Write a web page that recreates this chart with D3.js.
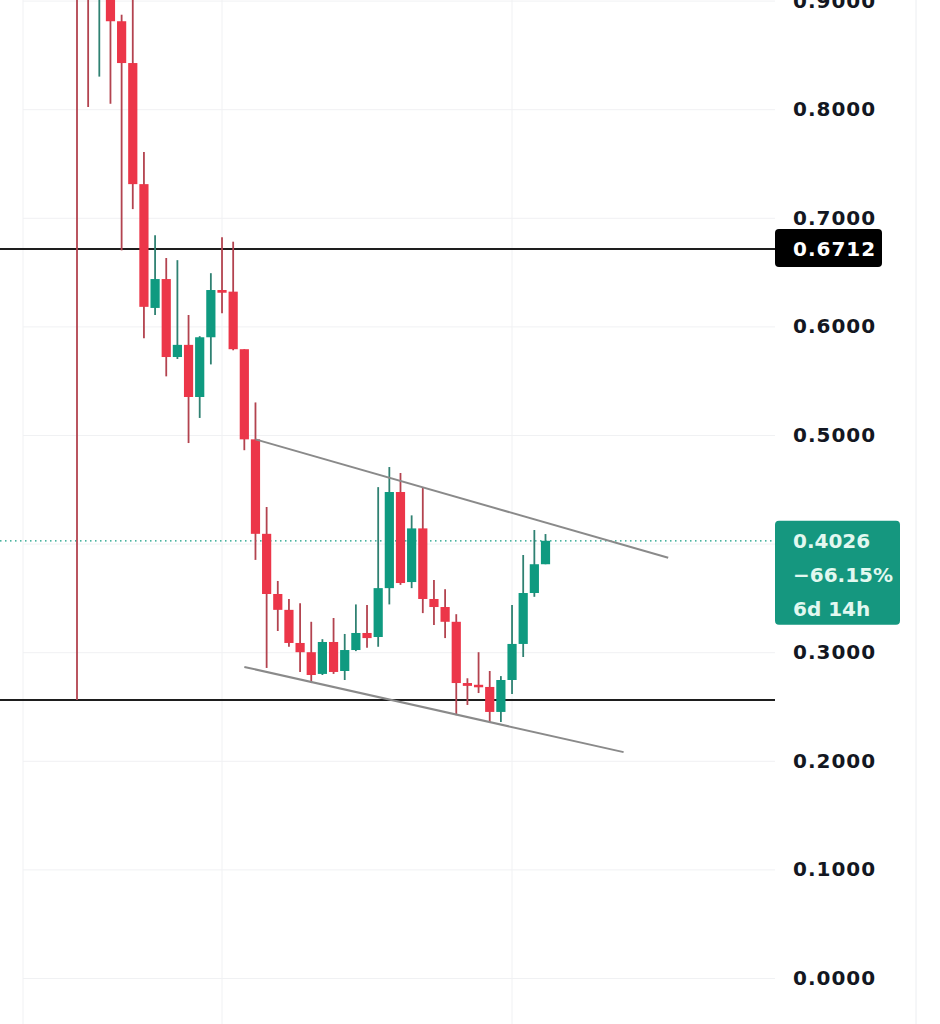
<!DOCTYPE html>
<html>
<head>
<meta charset="utf-8">
<script src="https://cdn.jsdelivr.net/npm/d3@7"></script>
<style>
  body { margin: 0; background: #fff; }
  svg { display: block; }
  .rotulo-eixo text { font-family: "DejaVu Sans", sans-serif; font-weight: bold; font-size: 20px; letter-spacing: 1px; fill: #131722; }
  .etiqueta { font-family: "DejaVu Sans", sans-serif; font-weight: bold; font-size: 20px; letter-spacing: 1px; }
  .linha-etiqueta { letter-spacing: 0px; }
</style>
</head>
<body>
<svg id="grafico"></svg>
<script>
// dados das velas (abertura, máxima, mínima, fechamento)
const aberturas = [0.95, 0.97, 0.92, 0.95, 0.881, 0.8425, 0.731, 0.617, 0.6436, 0.5718,
  0.583, 0.535, 0.590, 0.6335, 0.632, 0.579, 0.496, 0.409, 0.3536, 0.339,
  0.3085, 0.300, 0.280, 0.3094, 0.2827, 0.302, 0.3177, 0.314, 0.359, 0.4475,
  0.3646, 0.414, 0.349, 0.3416, 0.328, 0.2716, 0.270, 0.268, 0.245, 0.2744,
  0.3076, 0.3545, 0.381];
const maximas = [1.00, 1.00, 0.99, 0.97, 0.887, 0.93, 0.7606, 0.684, 0.663, 0.661,
  0.6105, 0.591, 0.649, 0.682, 0.678, 0.579, 0.530, 0.4337, 0.3656, 0.349,
  0.345, 0.328, 0.312, 0.3315, 0.3168, 0.344, 0.3435, 0.452, 0.4705, 0.465,
  0.426, 0.452, 0.3665, 0.358, 0.335, 0.276, 0.300, 0.2827, 0.278, 0.3435,
  0.3895, 0.4125, 0.4088];
const minimas = [0.256, 0.802, 0.830, 0.805, 0.670, 0.708, 0.589, 0.6105, 0.554, 0.570,
  0.4926, 0.5157, 0.565, 0.612, 0.578, 0.486, 0.385, 0.2855, 0.3195, 0.305,
  0.2818, 0.2716, 0.279, 0.280, 0.2744, 0.301, 0.304, 0.305, 0.344, 0.362,
  0.359, 0.336, 0.325, 0.313, 0.242, 0.2514, 0.2624, 0.2357, 0.2357, 0.2615,
  0.2956, 0.351, 0.381];
const fechamentos = [0.92, 0.93, 0.95, 0.881, 0.8425, 0.731, 0.618, 0.6436, 0.5718, 0.583,
  0.535, 0.590, 0.6335, 0.631, 0.579, 0.496, 0.409, 0.3536, 0.339, 0.3085,
  0.300, 0.279, 0.3094, 0.2818, 0.302, 0.3177, 0.313, 0.359, 0.4475, 0.3637,
  0.414, 0.349, 0.3416, 0.328, 0.2716, 0.269, 0.268, 0.245, 0.2744, 0.3076,
  0.3545, 0.381, 0.4026];

// níveis horizontais e linhas de tendência [índice da vela, preço]
const resistencia = 0.6712;
const suporte = 0.256;
const ultimoPreco = 0.4026;
const variacao = '\u221266.15%';
const tempoRestante = '6d 14h';
const tendenciaSuperior = [[16, 0.496], [53, 0.387]];
const tendenciaInferior = [[15, 0.2864], [49, 0.208]];
const ticksGrade = [0, 0.1, 0.2, 0.3, 0.4, 0.5, 0.6, 0.7, 0.8, 0.9];
const ticksRotulo = [0, 0.1, 0.2, 0.3, 0.5, 0.6, 0.7, 0.8, 0.9]; // 0.4 fica escondido pela etiqueta
const gradeX = [23, 222, 512];

const largura = 940, altura = 1024;
const fimPlot = 775;
const corAlta = '#0f9a80', corBaixa = '#ec3649';
const pavioAlta = '#2f8172', pavioBaixa = '#b3434f';

const svg = d3.select('#grafico').attr('width', largura).attr('height', altura);

const velas = aberturas.map((o, i) => ({ i, o, h: maximas[i], l: minimas[i], c: fechamentos[i] }));

// escalas
const x = d3.scaleLinear().domain([0, 42]).range([77, 545.5]);
const y = d3.scaleLinear().domain([0, 0.9]).range([978, 0.6]);

// grade horizontal
svg.append('g')
    .attr('transform', `translate(${fimPlot}, 0)`)
    .call(d3.axisLeft(y).tickValues(ticksGrade).tickSize(fimPlot - 23).tickFormat(''))
    .call(g => g.select('.domain').remove())
    .call(g => g.selectAll('line').attr('stroke', '#f0f1f3').attr('stroke-width', 1));

// grade vertical
svg.append('g').selectAll('line').data(gradeX).join('line')
    .attr('x1', d => d).attr('x2', d => d)
    .attr('y1', 0).attr('y2', altura)
    .attr('stroke', '#f0f1f3');
svg.append('line').attr('x1', 916).attr('x2', 916).attr('y1', 0).attr('y2', altura)
    .attr('stroke', '#eceef1');

// linhas horizontais pretas
svg.append('g').selectAll('line').data([resistencia, suporte]).join('line')
    .attr('x1', 0).attr('x2', fimPlot)
    .attr('y1', d => y(d)).attr('y2', d => y(d))
    .attr('stroke', '#1e1e1e').attr('stroke-width', 2);

// linha pontilhada do último preço
svg.append('line')
    .attr('x1', 0).attr('x2', fimPlot)
    .attr('y1', y(ultimoPreco)).attr('y2', y(ultimoPreco))
    .attr('stroke', corAlta).attr('stroke-width', 1.2)
    .attr('stroke-dasharray', '1.5,3.5');

// velas
const gVelas = svg.append('g');
gVelas.selectAll('.pavio').data(velas).join('line')
    .classed('pavio', true)
    .attr('x1', d => x(d.i)).attr('x2', d => x(d.i))
    .attr('y1', d => y(d.h)).attr('y2', d => y(d.l))
    .attr('stroke', d => d.c >= d.o ? pavioAlta : pavioBaixa)
    .attr('stroke-width', 1.8);
gVelas.selectAll('.corpo').data(velas).join('rect')
    .classed('corpo', true)
    .attr('x', d => x(d.i) - 4.6)
    .attr('width', 9.2)
    .attr('y', d => y(Math.max(d.o, d.c)))
    .attr('height', d => Math.max(2.5, Math.abs(y(d.o) - y(d.c))))
    .attr('fill', d => d.c >= d.o ? corAlta : corBaixa);

// linhas de tendência
svg.append('g').selectAll('line').data([tendenciaSuperior, tendenciaInferior]).join('line')
    .attr('x1', d => x(d[0][0])).attr('y1', d => y(d[0][1]))
    .attr('x2', d => x(d[1][0])).attr('y2', d => y(d[1][1]))
    .attr('stroke', '#8a8a8a').attr('stroke-width', 2);

// eixo de preços
svg.append('g')
    .attr('class', 'rotulo-eixo')
    .attr('transform', 'translate(793, 0)')
    .call(d3.axisRight(y).tickValues(ticksRotulo).tickSize(0).tickPadding(0).tickFormat(d3.format('.4f')))
    .call(g => g.select('.domain').remove());

// etiqueta da resistência
svg.append('rect')
    .attr('x', 775).attr('y', y(resistencia) - 20).attr('width', 107).attr('height', 38)
    .attr('rx', 4).attr('fill', '#000');
svg.append('text').attr('class', 'etiqueta')
    .attr('x', 793).attr('y', y(resistencia)).attr('dy', '0.36em')
    .attr('fill', '#fff').text(resistencia.toFixed(4));

// etiqueta do último preço
const yP = y(ultimoPreco);
svg.append('rect')
    .attr('x', 775).attr('y', yP - 20).attr('width', 125).attr('height', 104)
    .attr('rx', 4).attr('fill', '#15977f');
svg.selectAll('.linha-etiqueta').data([ultimoPreco.toFixed(4), variacao, tempoRestante]).join('text')
    .attr('class', 'etiqueta linha-etiqueta')
    .attr('x', 793).attr('y', (d, i) => yP + i * 34).attr('dy', '0.36em')
    .attr('fill', '#e2f8f0').text(d => d);
</script>
</body>
</html>
